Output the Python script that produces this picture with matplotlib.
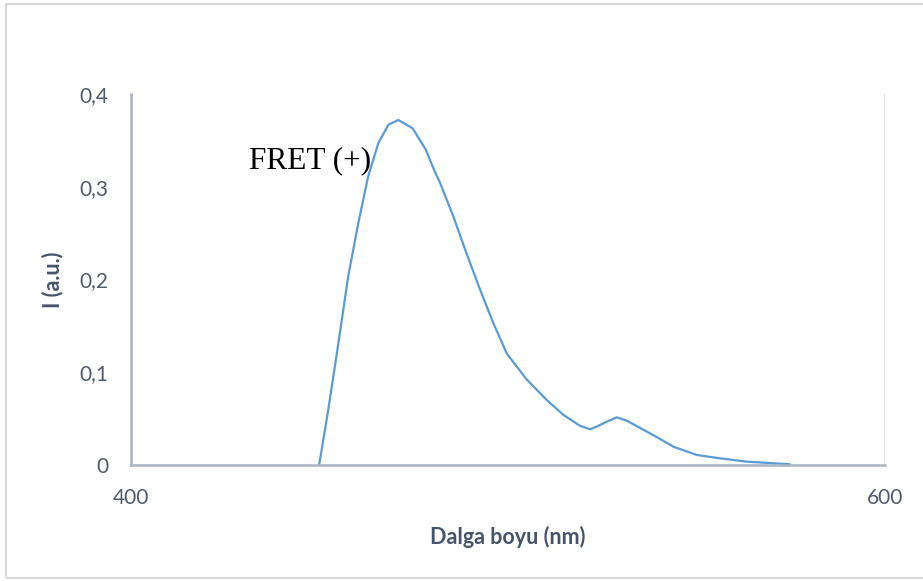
import matplotlib
matplotlib.use("Agg")
import matplotlib.pyplot as plt
from matplotlib.patches import Rectangle

# Emisyon spektrumu, FRET (+)
dalga_boyu = [449.9, 452.3, 455.0, 457.6, 460.3, 462.9, 465.6, 468.3, 470.9,
              474.7, 478.2, 480.4, 482.0, 485.5, 489.0, 492.6, 496.1, 499.7,
              505.0, 510.3, 514.7, 519.0, 521.8, 523.5, 525.3, 528.8, 531.5,
              534.1, 538.5, 543.9, 550.1, 556.2, 563.3, 574.8]
siddet = [0.0, 0.059, 0.131, 0.203, 0.261, 0.311, 0.347, 0.367, 0.372,
          0.363, 0.340, 0.318, 0.304, 0.268, 0.228, 0.189, 0.153, 0.120,
          0.092, 0.070, 0.054, 0.0425, 0.0385, 0.0413, 0.045, 0.0514, 0.0478,
          0.042, 0.0323, 0.0197, 0.0108, 0.0072, 0.0036, 0.0008]

x_ticks = [400, 600]
y_ticks = [0, 0.1, 0.2, 0.3, 0.4]
y_etiket = ["0", "0,1", "0,2", "0,3", "0,4"]

W, H = 923, 581
fig = plt.figure(figsize=(W / 100, H / 100), dpi=100)
ax = fig.add_axes([131 / W, 1 - 465 / H, (885 - 131) / W, (465 - 94) / H])

ax.plot(dalga_boyu, siddet, color="#5B9BD5", lw=1.6,
        solid_joinstyle="round", solid_capstyle="round")

ax.set_xlim(400, 600)
ax.set_ylim(0, 0.4)
ax.set_xticks(x_ticks)
ax.set_yticks(y_ticks)
ax.set_yticklabels(y_etiket)

yazi_renk = "#4F5B6D"
ax.tick_params(length=0, labelsize=15, labelcolor=yazi_renk)
ax.tick_params(axis="y", pad=16.5)
ax.tick_params(axis="x", pad=16.5)
for lbl in ax.get_xticklabels() + ax.get_yticklabels():
    lbl.set_fontfamily("Lato")

# dikey kilavuz cizgileri
ax.grid(axis="x", color="#D9D9D9", lw=1.8)
ax.set_axisbelow(True)

for s in ["top", "right"]:
    ax.spines[s].set_visible(False)
for s in ["left", "bottom"]:
    ax.spines[s].set_color("#A9B4C6")
    ax.spines[s].set_linewidth(1.8)

ax.set_xlabel("Dalga boyu (nm)", fontfamily="Lato", fontweight="bold",
              fontsize=15.5, color="#44546A", labelpad=13)
ax.set_ylabel("I (a.u.)", fontfamily="Lato", fontweight="bold",
              fontsize=15.5, color="#44546A", labelpad=11)

ax.text(249 / W, 1 - 161 / H, "FRET (+)", transform=fig.transFigure,
        fontfamily="Liberation Serif", fontsize=22.5, color="black",
        ha="left", va="center")

# dis cerceve
fig.patches.append(Rectangle((6 / W, 1 - 578 / H), 1.0, (578 - 4) / H,
                             transform=fig.transFigure, fill=False,
                             edgecolor="#D9D9D9", lw=1.5))

fig.savefig("out.png", dpi=100)
